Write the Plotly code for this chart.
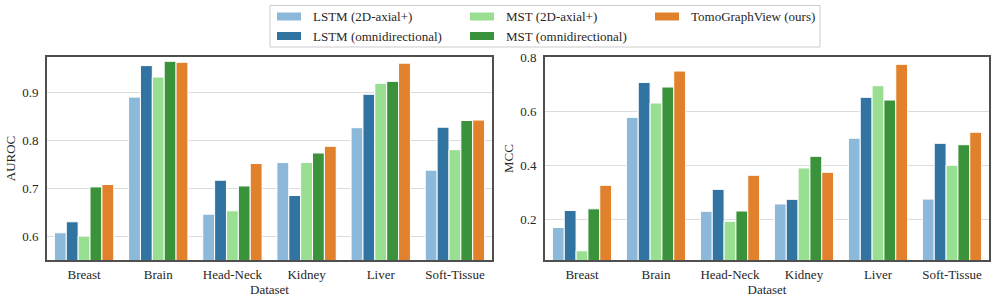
import plotly.graph_objects as go

datasets = ["Breast", "Brain", "Head-Neck", "Kidney", "Liver", "Soft-Tissue"]
series = ["LSTM (2D-axial+)", "LSTM (omnidirectional)", "MST (2D-axial+)",
          "MST (omnidirectional)", "TomoGraphView (ours)"]
colors = ["#8cb8da", "#3274a1", "#98df92", "#3a923a", "#e1812c"]

auroc_lstm_2d = [0.607, 0.891, 0.646, 0.754, 0.827, 0.738]
auroc_lstm_omni = [0.630, 0.957, 0.717, 0.685, 0.897, 0.828]
auroc_mst_2d = [0.600, 0.933, 0.653, 0.754, 0.920, 0.781]
auroc_mst_omni = [0.703, 0.966, 0.705, 0.774, 0.924, 0.842]
auroc_tgv = [0.708, 0.964, 0.752, 0.788, 0.962, 0.843]

mcc_lstm_2d = [0.170, 0.577, 0.230, 0.257, 0.500, 0.275]
mcc_lstm_omni = [0.233, 0.706, 0.311, 0.274, 0.651, 0.481]
mcc_mst_2d = [0.084, 0.630, 0.193, 0.390, 0.694, 0.400]
mcc_mst_omni = [0.239, 0.689, 0.231, 0.433, 0.641, 0.476]
mcc_tgv = [0.326, 0.748, 0.363, 0.374, 0.773, 0.522]

auroc_ticks = [0.6, 0.7, 0.8, 0.9]
mcc_ticks = [0.2, 0.4, 0.6, 0.8]

auroc_all = [auroc_lstm_2d, auroc_lstm_omni, auroc_mst_2d, auroc_mst_omni, auroc_tgv]
mcc_all = [mcc_lstm_2d, mcc_lstm_omni, mcc_mst_2d, mcc_mst_omni, mcc_tgv]

W, H = 996, 303
ML, MR, MT, MB = 47, 7, 57, 43
PW = W - ML - MR
PH = H - MT - MB

FONT = "Liberation Serif"
TXT = "#262626"

fig = go.Figure()
for i, name in enumerate(series):
    fig.add_trace(go.Bar(x=datasets, y=auroc_all[i], name=name, marker_color=colors[i],
                         marker_line=dict(color="white", width=1), offsetgroup=str(i),
                         xaxis="x", yaxis="y", showlegend=False))
    fig.add_trace(go.Bar(x=datasets, y=mcc_all[i], name=name, marker_color=colors[i],
                         marker_line=dict(color="white", width=1), offsetgroup=str(i),
                         xaxis="x2", yaxis="y2", showlegend=False))


def px_x(x):
    return (x - ML) / PW


def px_y(y):
    return (H - MB - y) / PH


axis_common = dict(showline=True, mirror=True, linecolor="#4f4f4f", linewidth=1.6,
                   ticks="", tickfont=dict(family=FONT, size=13, color=TXT),
                   zeroline=False, automargin=False)

d1 = [0, (492 - ML) / PW]
d2 = [(545 - ML) / PW, 1]

fig.update_layout(
    width=W, height=H,
    margin=dict(l=ML, r=MR, t=MT, b=MB),
    paper_bgcolor="white", plot_bgcolor="white",
    barmode="group", bargap=0.2, bargroupgap=0,
    font=dict(family=FONT, size=13, color=TXT),
    xaxis=dict(domain=d1, anchor="y", range=[-0.5, 5.5], showgrid=False,
               ticklabelstandoff=2,
               title=dict(text="Dataset", font=dict(family=FONT, size=13, color=TXT), standoff=2),
               **axis_common),
    yaxis=dict(domain=[0, 1], anchor="x", range=[0.55, 0.975], tickvals=auroc_ticks,
               ticktext=[f"{v:.1f}" for v in auroc_ticks],
               showgrid=True, gridcolor="#dcdcdc", gridwidth=1.3, ticklabelstandoff=4,
               title=dict(text="AUROC", font=dict(family=FONT, size=13, color=TXT), standoff=4),
               **axis_common),
    xaxis2=dict(domain=d2, anchor="y2", range=[-0.5, 5.5], showgrid=False,
                ticklabelstandoff=2,
                title=dict(text="Dataset", font=dict(family=FONT, size=13, color=TXT), standoff=2),
                **axis_common),
    yaxis2=dict(domain=[0, 1], anchor="x2", range=[0.05, 0.8], tickvals=mcc_ticks,
                ticktext=[f"{v:.1f}" for v in mcc_ticks],
                showgrid=True, gridcolor="#dcdcdc", gridwidth=1.3, ticklabelstandoff=4,
                title=dict(text="MCC", font=dict(family=FONT, size=13, color=TXT), standoff=4),
                **axis_common),
)

# manual legend (3 columns, column-major order)
shapes = []
annotations = []
shapes.append(dict(type="rect", xref="paper", yref="paper",
                   x0=px_x(270), x1=px_x(820), y0=px_y(47), y1=px_y(5.5),
                   line=dict(color="#cccccc", width=1), fillcolor="white", layer="above"))
col_x = [277, 470, 655]
row_y = [16.5, 36.0]
positions = [(0, 0), (0, 1), (1, 0), (1, 1), (2, 0)]
for i, name in enumerate(series):
    c, r = positions[i]
    sx = col_x[c]
    sy = row_y[r]
    shapes.append(dict(type="rect", xref="paper", yref="paper",
                       x0=px_x(sx), x1=px_x(sx + 24), y0=px_y(sy + 4), y1=px_y(sy - 4),
                       line=dict(width=0), fillcolor=colors[i], layer="above"))
    annotations.append(dict(xref="paper", yref="paper", x=px_x(sx + 34), y=px_y(sy),
                            text=name, showarrow=False, xanchor="left", yanchor="middle",
                            font=dict(family=FONT, size=13, color=TXT)))

fig.update_layout(shapes=shapes, annotations=annotations)

fig.write_html("out.html", config={"displayModeBar": False},
               post_script="document.body.style.margin='0';document.body.style.overflow='hidden';")
